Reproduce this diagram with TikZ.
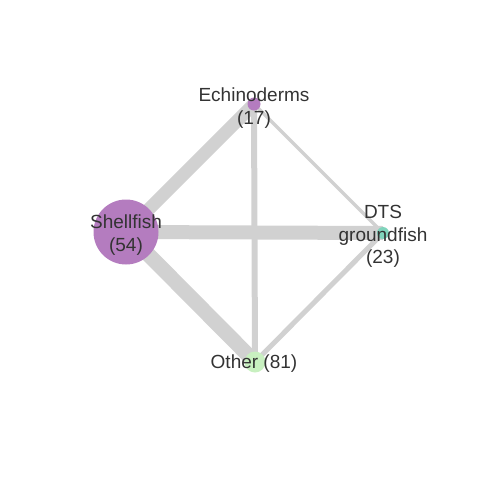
\documentclass[tikz,border=0pt]{standalone}
\usepackage{fontspec}
\setmainfont{Liberation Sans}
\definecolor{edgegray}{HTML}{D1D1D1}
\definecolor{purp}{HTML}{B47CBF}
\definecolor{teal2}{HTML}{80D4BC}
\definecolor{lgreen}{HTML}{C8F0C0}
\definecolor{txt}{HTML}{333333}
\begin{document}
\begin{tikzpicture}[x=1pt,y=-1pt,
  vert/.style={circle,inner sep=0pt,draw=none},
  lbl/.style={text=txt,font=\fontsize{19}{22.5}\selectfont,align=center,inner sep=0pt},
  edge/.style={draw=edgegray,line cap=butt}]
\useasboundingbox (0,0) rectangle (480,480);
\coordinate (E) at (254,104);
\coordinate (S) at (126,232);
\coordinate (D) at (383,233);
\coordinate (O) at (255,362);
\draw[edge,line width=13] (S) -- (E);
\draw[edge,line width=15] (S) -- (O);
\draw[edge,line width=14] (S) -- (D);
\draw[edge,line width=6] (E) -- (O);
\draw[edge,line width=3.5] (E) -- (D);
\draw[edge,line width=5] (D) -- (O);
\node[vert,fill=purp,minimum size=13] (Ec) at (E) {};
\node[vert,fill=purp,minimum size=65] (Sc) at (S) {};
\node[vert,fill=teal2,minimum size=12] (Dc) at (D) {};
\node[vert,fill=lgreen,minimum size=21] (Oc) at (O) {};
\node[lbl] (El) at (254,108) {Echinoderms\\(17)};
\node[lbl] (Sl) at (126,235) {Shellfish\\(54)};
\node[lbl] (Dl) at (383,236.5) {DTS\\groundfish\\(23)};
\node[lbl] (Ol) at (254,363.5) {Other (81)};
\end{tikzpicture}
\end{document}
